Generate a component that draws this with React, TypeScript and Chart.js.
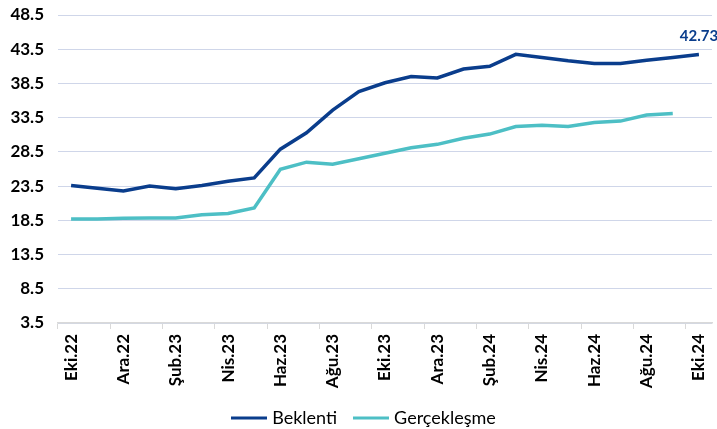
import React, { useEffect, useRef } from "react";
import { Chart, registerables } from "chart.js";

Chart.register(...registerables);

const months = [
  "Eki.22", "Kas.22", "Ara.22", "Oca.23", "Şub.23", "Mar.23", "Nis.23", "May.23",
  "Haz.23", "Tem.23", "Ağu.23", "Eyl.23", "Eki.23", "Kas.23", "Ara.23", "Oca.24",
  "Şub.24", "Mar.24", "Nis.24", "May.24", "Haz.24", "Tem.24", "Ağu.24", "Eyl.24", "Eki.24",
];

const beklenti = [
  23.6, 23.2, 22.8, 23.5, 23.1, 23.6, 24.2, 24.7, 28.9, 31.3, 34.6, 37.3, 38.6,
  39.5, 39.3, 40.6, 41.0, 42.75, 42.3, 41.8, 41.4, 41.4, 41.9, 42.3, 42.73,
];

const gerceklesme = [
  18.7, 18.7, 18.8, 18.85, 18.85, 19.3, 19.5, 20.3, 25.95, 27.0, 26.7, 27.5, 28.3,
  29.1, 29.6, 30.5, 31.1, 32.2, 32.4, 32.2, 32.8, 33.0, 33.9, 34.1, null,
];

const yTicks = [3.5, 8.5, 13.5, 18.5, 23.5, 28.5, 33.5, 38.5, 43.5, 48.5];
const seriesNames = ["Beklenti", "Gerçekleşme"];
const lastLabel = "42.73";

const BLUE = "#0a3d8c";
const TEAL = "#4dbfc5";
const FONT = "Lato, 'DejaVu Sans', sans-serif";

function legendLine(color: string): HTMLCanvasElement {
  const c = document.createElement("canvas");
  c.width = 36;
  c.height = 4;
  const g = c.getContext("2d");
  if (g) {
    g.fillStyle = color;
    g.fillRect(0, 0.5, 36, 3);
  }
  return c;
}

const lastValuePlugin = {
  id: "lastValue",
  afterDatasetsDraw(chart: any) {
    const meta = chart.getDatasetMeta(0);
    const pt = meta.data[meta.data.length - 1];
    if (!pt) return;
    const ctx = chart.ctx;
    ctx.save();
    ctx.font = `bold 15px ${FONT}`;
    ctx.fillStyle = BLUE;
    ctx.textAlign = "center";
    ctx.textBaseline = "bottom";
    ctx.fillText(lastLabel, pt.x, pt.y - 11);
    ctx.restore();
  },
};

const legendShiftPlugin = {
  id: "legendShift",
  afterLayout(chart: any) {
    const l = chart.legend;
    if (l) {
      l.left += 9;
      l.right += 9;
    }
  },
};

export default function App() {
  const ref = useRef<HTMLCanvasElement | null>(null);

  useEffect(() => {
    if (!ref.current) return;
    const chart = new Chart(ref.current, {
      type: "line",
      data: {
        labels: months,
        datasets: [
          {
            label: seriesNames[0],
            data: beklenti,
            borderColor: BLUE,
            backgroundColor: BLUE,
            borderWidth: 3.5,
            pointRadius: 0,
            pointStyle: legendLine(BLUE),
            tension: 0,
          },
          {
            label: seriesNames[1],
            data: gerceklesme,
            borderColor: TEAL,
            backgroundColor: TEAL,
            borderWidth: 3.5,
            pointRadius: 0,
            pointStyle: legendLine(TEAL),
            tension: 0,
          },
        ],
      },
      options: {
        responsive: false,
        animation: false,
        layout: { padding: { top: 15, right: 5, left: 0, bottom: 0 } },
        scales: {
          x: {
            type: "category",
            offset: true,
            grid: {
              offset: true,
              drawOnChartArea: false,
              drawTicks: true,
              tickLength: 6,
              color: (c: any) => (c.index % 2 === 0 ? "#d9d9d9" : "rgba(0,0,0,0)"),
            },
            border: { display: true, color: "#d9d9d9", width: 1.5 },
            ticks: {
              autoSkip: false,
              maxRotation: 90,
              minRotation: 90,
              padding: 5,
              color: "#000",
              font: { family: FONT, size: 17, weight: "bold" },
              callback: (_v: any, i: number) => (i % 2 === 0 ? months[i] : ""),
            },
            afterFit: (s: any) => {
              s.height = 67;
              s.paddingLeft = 0;
              s.paddingRight = 0;
              s.paddingTop = 0;
              s.paddingBottom = 0;
            },
          },
          y: {
            min: 3.5,
            max: 48.5,
            grid: { color: "#cfd6e9", lineWidth: 1, drawTicks: false },
            border: { display: false },
            ticks: {
              padding: 14,
              color: "#000",
              font: { family: FONT, size: 17, weight: "bold" },
              callback: (v: any) => Number(v).toFixed(1),
            },
            afterBuildTicks: (s: any) => {
              s.ticks = yTicks.map((v) => ({ value: v }));
            },
            afterFit: (s: any) => {
              s.width = 58;
              s.paddingTop = 0;
              s.paddingBottom = 0;
            },
          },
        },
        plugins: {
          legend: {
            display: true,
            position: "bottom",
            maxHeight: 39,
            labels: {
              usePointStyle: true,
              pointStyleWidth: 29,
              padding: 19,
              color: "#000",
              font: { family: FONT, size: 18 },
            },
          },
          tooltip: { enabled: false },
        },
      },
      plugins: [lastValuePlugin, legendShiftPlugin],
    } as any);
    return () => chart.destroy();
  }, []);

  return (
    <div style={{ position: "absolute", left: 0, top: 0, width: 717, height: 429, background: "#fff" }}>
      <canvas ref={ref} width={717} height={429} />
    </div>
  );
}
